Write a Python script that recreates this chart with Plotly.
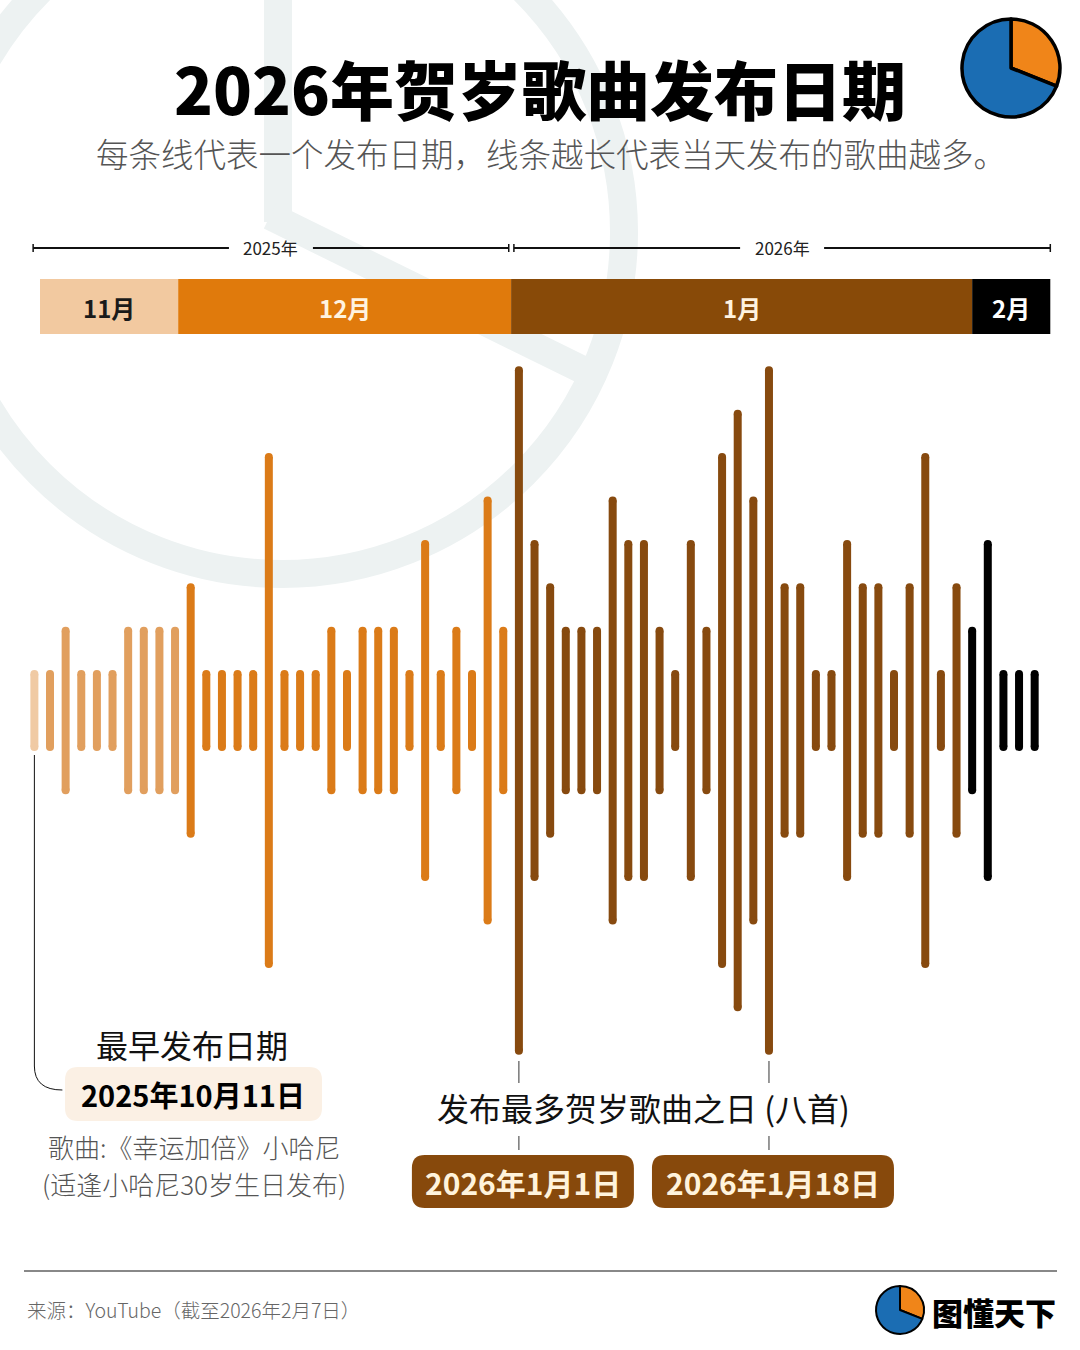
import plotly.graph_objects as go

W, H = 1080, 1350

# ---------------- data ----------------
OCT_COUNTS = [1]
NOV_COUNTS = [1, 2, 1, 1, 1, 2, 2, 2, 2]
DEC_COUNTS = [3, 1, 1, 1, 1, 6, 1, 1, 1, 2, 1, 2, 2, 2, 1, 4, 1, 2, 1, 5, 2]
JAN_COUNTS = [8, 4, 3, 2, 2, 2, 5, 4, 4, 2, 1, 4, 2, 6, 7, 5, 8, 3, 3, 1, 1, 4, 3, 3, 1, 3, 6, 1, 3]
FEB_COUNTS = [2, 4, 1, 1, 1]
MONTH_SERIES = [OCT_COUNTS, NOV_COUNTS, DEC_COUNTS, JAN_COUNTS, FEB_COUNTS]
BAND_LABELS = ["11月", "12月", "1月", "2月"]
YEAR_LABELS = ["2025年", "2026年"]
EARLIEST_DATE = "2025年10月11日"
PEAK_DATES = ["2026年1月1日", "2026年1月18日"]
LOGO_SHARES = [31, 69]

# ---------------- style ----------------
BAR_COLORS = ["#F0CAA4", "#E19F5E", "#DB7B18", "#874A0F", "#000000"]
BAND_COLORS = ["#F2C9A0", "#E07A0C", "#884A08", "#000000"]
BAND_TEXT = ["#1A1A1A", "#FFF3E0", "#FFF3E0", "#FFFFFF"]
FONT = "Noto Sans CJK SC"
XR = [-2.20, 66.90]
UNIT = 43.4          # px per song (half length)
CENTER = 710.5
YR = [-(H - CENTER) / UNIT, CENTER / UNIT]
CAP = 7 / UNIT


def X(p):
    return p / W


def Y(p):
    return 1 - p / H


def ipx(i):
    return (i - XR[0]) / (XR[1] - XR[0]) * W


def rrect(x0, y0, x1, y1, r):
    return (f"M {X(x0 + r)},{Y(y0)} L {X(x1 - r)},{Y(y0)} Q {X(x1)},{Y(y0)} {X(x1)},{Y(y0 + r)} "
            f"L {X(x1)},{Y(y1 - r)} Q {X(x1)},{Y(y1)} {X(x1 - r)},{Y(y1)} "
            f"L {X(x0 + r)},{Y(y1)} Q {X(x0)},{Y(y1)} {X(x0)},{Y(y1 - r)} "
            f"L {X(x0)},{Y(y0 + r)} Q {X(x0)},{Y(y0)} {X(x0 + r)},{Y(y0)} Z")


def ann(x, y, text, size, color, weight=400, xref="paper", xanchor="center"):
    return dict(x=x, y=y, xref=xref, yref="paper", text=text, showarrow=False,
                xanchor=xanchor, yanchor="middle",
                font=dict(family=FONT, size=size, color=color, weight=weight))


fig = go.Figure()

# bars
all_counts = []
start = 0
month_ranges = []
for counts, col in zip(MONTH_SERIES, BAR_COLORS):
    xs, ys = [], []
    for k, v in enumerate(counts):
        i = start + k
        xs += [i, i, None]
        ys += [v - CAP, -(v - CAP), None]
    fig.add_trace(go.Scatter(x=xs, y=ys, mode="lines+markers",
                             line=dict(color=col, width=8),
                             marker=dict(color=col, size=8, line=dict(width=0)),
                             hoverinfo="skip", showlegend=False))
    month_ranges.append((start, start + len(counts) - 1))
    all_counts += counts
    start += len(counts)

peak = max(all_counts)
peak_idx = [i for i, v in enumerate(all_counts) if v == peak]

shapes = []
annotations = []

# watermark (logo outline)
wcx, wcy, wr = 282, 232, 342
wm = "#EDF2F2"
shapes.append(dict(type="circle", xref="paper", yref="paper", layer="below",
                   x0=X(wcx - wr), x1=X(wcx + wr), y0=Y(wcy + wr), y1=Y(wcy - wr),
                   line=dict(color=wm, width=28)))
shapes.append(dict(type="line", xref="paper", yref="paper", layer="below",
                   x0=X(wcx - 4), y0=Y(wcy - wr), x1=X(wcx - 4), y1=Y(wcy - 10),
                   line=dict(color=wm, width=28)))
shapes.append(dict(type="line", xref="paper", yref="paper", layer="below",
                   x0=X(wcx - 12), y0=Y(wcy - 16), x1=X(wcx + 305), y1=Y(wcy + 140),
                   line=dict(color=wm, width=28)))

# month bands (edges between the last bar of one month and the first of the next)
edges = [month_ranges[1][0] - 0.64]
for a, b in month_ranges[1:]:
    edges.append(b + 0.5)
edges[1] -= 0.3
edges[3] += 0.5
edges[-1] += 0.5
band_top, band_bot = 279, 334
for k, lab in enumerate(BAND_LABELS):
    shapes.append(dict(type="rect", xref="x", yref="paper", layer="below",
                       x0=edges[k], x1=edges[k + 1], y0=Y(band_bot), y1=Y(band_top),
                       fillcolor=BAND_COLORS[k], line=dict(width=0)))
    annotations.append(ann((edges[k] + edges[k + 1]) / 2, Y((band_top + band_bot) / 2 + 1),
                           lab, 24, BAND_TEXT[k], 700, xref="x"))

# year axis
yy = 248
dec_end = month_ranges[2][1] + 0.5
year_spans = [(-0.08, dec_end - 0.15), (dec_end + 0.18, edges[-1])]
for (a, b), lab in zip(year_spans, YEAR_LABELS):
    pa, pb = ipx(a), ipx(b)
    pc = (pa + pb) / 2
    for s0, s1 in [(pa, pc - 42), (pc + 42, pb)]:
        shapes.append(dict(type="line", xref="paper", yref="paper", x0=X(s0), x1=X(s1),
                           y0=Y(yy), y1=Y(yy), line=dict(color="#111", width=2)))
    for e in (pa, pb):
        shapes.append(dict(type="line", xref="paper", yref="paper", x0=X(e), x1=X(e),
                           y0=Y(yy - 4), y1=Y(yy + 4), line=dict(color="#111", width=1.5)))
    annotations.append(ann(X(pc), Y(yy - 1), lab, 17, "#222"))

# title & subtitle
annotations.append(ann(X(540), Y(87), "2026年贺岁歌曲发布日期", 64, "#000", 900))
annotations.append(ann(X(551), Y(153), "每条线代表一个发布日期，线条越长代表当天发布的歌曲越多。",
                       32.5, "#555", 300))

# earliest date callout
p0 = ipx(0)
shapes.append(dict(type="path", xref="paper", yref="paper",
                   path=f"M {X(p0)},{Y(755)} L {X(p0)},{Y(1066)} Q {X(p0)},{Y(1090)} {X(p0 + 28)},{Y(1090)}",
                   line=dict(color="#111", width=1)))
shapes.append(dict(type="path", xref="paper", yref="paper", path=rrect(65, 1067, 322, 1121, 13),
                   fillcolor="#FBF0E4", line=dict(width=0)))
annotations.append(ann(X(192), Y(1044), "最早发布日期", 32, "#111"))
annotations.append(ann(X(193), Y(1094), EARLIEST_DATE, 29, "#000", 700))
annotations.append(ann(X(194), Y(1146), "歌曲:《幸运加倍》小哈尼", 26, "#555", 300))
annotations.append(ann(X(194), Y(1183), "(适逢小哈尼30岁生日发布)", 26, "#555", 300))

# peak day callout
for i, lab in zip(peak_idx, PEAK_DATES):
    px = ipx(i)
    for a, b in [(1061, 1083), (1136, 1150)]:
        shapes.append(dict(type="line", xref="paper", yref="paper", x0=X(px), x1=X(px),
                           y0=Y(a), y1=Y(b), line=dict(color="#333", width=1)))
    half = 111 if len(lab) < 10 else 121
    cx = px + 4
    shapes.append(dict(type="path", xref="paper", yref="paper",
                       path=rrect(cx - half, 1155, cx + half, 1208, 13),
                       fillcolor="#87490C", line=dict(width=0)))
    annotations.append(ann(X(cx), Y(1182), lab, 30, "#FFF3DC", 700))
mid = (ipx(peak_idx[0]) + ipx(peak_idx[-1])) / 2
annotations.append(ann(X(mid), Y(1107), "发布最多贺岁歌曲之日 (八首)", 32, "#111"))

# footer
shapes.append(dict(type="line", xref="paper", yref="paper", x0=X(24), x1=X(1057),
                   y0=Y(1271), y1=Y(1271), line=dict(color="#888", width=2)))
annotations.append(ann(X(25), Y(1309), "来源：YouTube（截至2026年2月7日）", 19.5, "#666", 300,
                       xanchor="left"))
annotations.append(ann(X(994), Y(1311), "图懂天下", 31, "#000", 900))

# logos (pie)
for cx, cy, r, lw in [(1011, 68, 49, 3.5), (900, 1310, 24, 2)]:
    fig.add_trace(go.Pie(values=LOGO_SHARES, sort=False, direction="clockwise", rotation=0,
                         marker=dict(colors=["#F08519", "#1B6DB3"], line=dict(color="#000", width=lw)),
                         textinfo="none", hoverinfo="skip", showlegend=False,
                         domain=dict(x=[X(cx - r), X(cx + r)], y=[Y(cy + r), Y(cy - r)])))

fig.update_layout(
    width=W, height=H, margin=dict(l=0, r=0, t=0, b=0),
    paper_bgcolor="white", plot_bgcolor="rgba(0,0,0,0)",
    xaxis=dict(range=XR, visible=False, fixedrange=True),
    yaxis=dict(range=YR, visible=False, fixedrange=True),
    shapes=shapes, annotations=annotations, showlegend=False,
)

fig.write_html("out.html")
